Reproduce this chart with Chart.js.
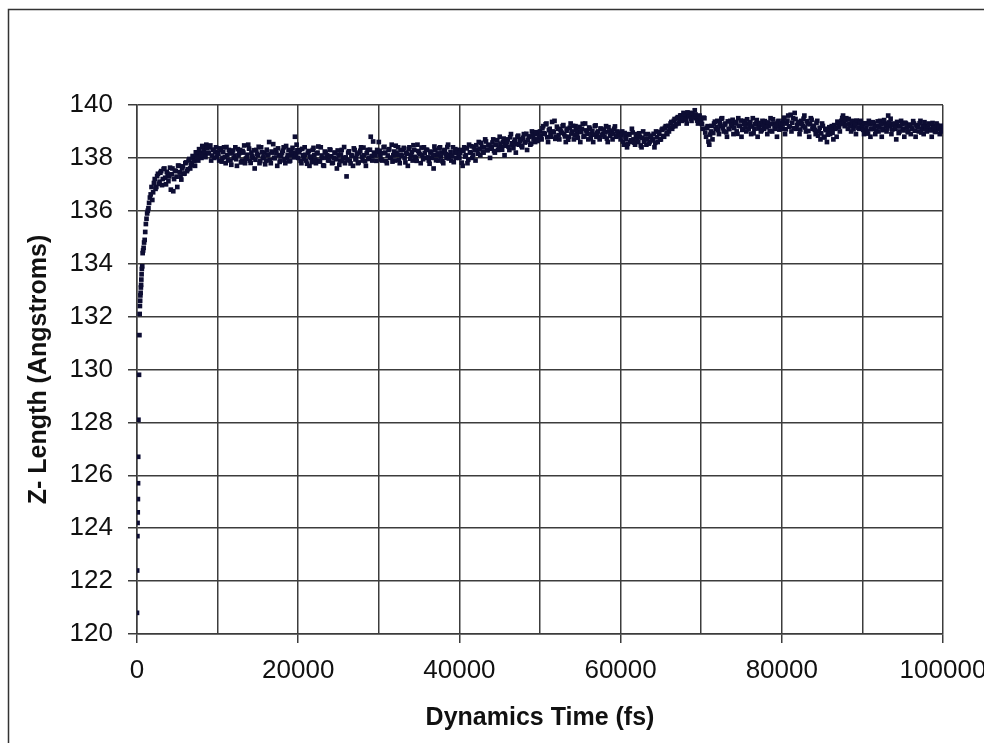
<!DOCTYPE html>
<html>
<head>
<meta charset="utf-8">
<script src="https://cdn.jsdelivr.net/npm/chart.js@4.4.1/dist/chart.umd.min.js"></script>
<style>
  html, body { margin: 0; padding: 0; background: #fff; overflow: hidden; }
  #wrap { width: 984px; height: 743px; position: relative; }
</style>
</head>
<body>
<div id="wrap"><canvas id="zChart" width="984" height="743"></canvas></div>
<script>

// start-up: first ~1500 fs, read point by point
var earlyTimes = [0, 20, 50, 70, 90, 110, 130, 150, 180,
    250, 300, 330, 360, 390, 420, 450, 480, 510, 540, 570, 600,
    650, 700, 760, 820, 880, 950, 1020, 1100, 1180, 1260, 1340, 1420, 1500];
var earlyLengths = [120.8, 122.4, 123.7, 124.2, 124.6, 125.1, 125.7, 126.7, 128.1,
    129.8, 131.3, 132.1, 132.4, 132.6, 132.8, 132.9, 133.1, 133.2, 133.4, 133.6, 133.8,
    133.9, 134.4, 134.5, 134.6, 134.8, 134.9, 135.2, 135.5, 135.7, 135.9, 136.0, 136.1, 136.3];

// rest of the run: values every 200 fs from bandStarts[i], plus the in-between
// samples (offset 100 fs) in the mid arrays
var sampleStep = 200;
var midOffset = 100;
var bandStarts = [1600, 10000, 20000, 30000, 40000, 50000, 60000, 70000, 80000, 90000];

var band0 = [136.5,136.9,136.7,137.2,136.9,137.4,137.1,137.5,137.2,137.6,
    137.0,137.4,137.3,136.8,137.6,137.2,137.5,136.9,137.7,137.3,
    137.6,137.4,137.8,137.5,137.9,137.6,137.8,138.0,137.7,138.1,
    137.9,138.2,138.0,138.4,138.1,138.5,138.2,138.4,137.9,138.3,
    138.0,138.4];
var band1 = [138.2,137.9,138.3,138.0,138.4,137.8,138.1,138.3,137.9,138.2,
    138.0,138.4,137.7,138.1,138.3,137.9,138.2,137.8,138.0,138.5,
    137.9,138.2,138.0,137.6,138.3,138.1,137.8,138.4,138.0,138.2,
    137.9,138.1,138.6,137.8,138.2,138.0,138.3,137.7,138.1,137.9,
    138.2,138.4,137.8,138.0,138.3,137.9,138.1,138.2,138.8,138.5];
var band2 = [138.0,138.3,137.8,138.1,138.4,137.9,138.2,137.7,138.0,138.3,
    138.1,137.8,138.2,137.9,138.4,138.0,137.7,138.2,138.1,137.9,
    138.3,137.8,138.0,138.2,137.6,138.1,137.9,138.3,138.0,137.8,
    137.3,138.2,137.9,138.1,137.7,138.3,138.0,137.8,138.2,138.4,
    137.9,138.1,137.7,138.3,138.0,138.8,137.9,138.2,138.1,138.3];
var band3 = [138.6,138.1,137.9,138.4,138.2,137.8,138.3,138.0,138.5,138.1,
    137.9,138.2,138.4,137.8,138.1,138.3,138.0,138.2,137.7,138.4,
    138.1,137.9,138.3,138.0,138.5,138.2,137.8,138.1,138.4,138.0,
    138.3,137.9,138.2,138.0,137.6,138.3,138.1,137.9,138.4,138.2,
    137.8,138.3,138.0,138.5,138.1,137.9,138.4,138.2,138.0,138.3];
var band4 = [138.0,138.3,137.7,138.4,138.1,137.8,138.5,138.2,138.0,138.4,
    137.9,138.3,138.6,138.1,138.4,138.2,138.7,138.3,138.5,138.0,
    138.4,138.7,138.2,138.5,138.3,138.8,138.4,138.6,138.1,138.5,
    138.7,138.3,138.9,138.5,138.6,138.2,138.8,138.5,138.7,138.4,
    138.9,138.6,138.3,138.8,138.5,139.0,138.7,138.6,138.9,138.7];
var band5 = [139.0,138.7,139.2,138.9,139.3,138.6,139.1,138.8,139.0,139.4,
    138.8,139.1,138.7,139.0,139.2,138.9,138.6,139.1,138.8,139.3,
    139.0,138.7,139.2,138.9,139.0,138.6,139.1,138.8,139.3,139.0,
    138.7,139.1,138.9,138.6,139.2,138.8,139.0,138.7,139.1,138.9,
    138.8,139.2,138.6,139.0,138.9,138.7,139.1,138.8,139.0,138.9];
var band6 = [138.7,139.0,138.5,138.8,138.4,138.9,138.6,139.1,138.7,138.5,
    138.9,138.6,138.8,138.4,139.0,138.7,138.5,138.9,138.6,138.8,
    138.7,138.4,139.0,138.6,138.9,138.7,139.1,138.8,139.2,138.9,
    139.0,139.3,139.1,139.4,139.2,139.5,139.3,139.6,139.4,139.7,
    139.5,139.3,139.6,139.7,139.4,139.6,139.8,139.5,139.3,139.6];
var band7 = [139.4,139.1,139.5,138.8,139.2,138.5,139.0,138.7,139.3,139.1,
    139.4,138.9,139.2,139.5,139.0,139.3,138.8,139.1,139.4,139.2,
    138.9,139.3,139.0,139.5,139.2,138.8,139.1,139.4,139.0,139.3,
    139.2,138.9,139.5,139.1,139.3,138.8,139.2,139.0,139.4,139.1,
    139.3,138.9,139.2,139.5,139.0,139.3,139.1,138.8,139.4,139.2];
var band8 = [139.1,139.4,138.9,139.3,139.6,139.2,139.0,139.5,139.7,139.1,
    139.3,138.9,139.4,139.2,139.6,139.0,139.3,138.8,139.5,139.1,
    139.2,138.9,139.4,139.0,138.7,139.3,138.8,139.1,138.6,139.0,
    138.9,139.2,138.7,139.1,138.8,139.3,139.0,139.4,139.6,139.2,
    139.5,139.1,139.3,139.0,139.4,139.2,138.9,139.3,139.1,139.4];
var band9 = [139.2,138.9,139.3,139.0,139.4,138.8,139.1,139.3,138.9,139.2,
    139.0,139.4,138.8,139.1,139.3,139.0,139.6,139.2,138.9,139.3,
    139.1,138.7,139.2,139.0,139.4,139.1,138.8,139.3,139.0,139.2,
    138.9,139.1,139.3,138.8,139.2,139.0,139.4,139.1,138.9,139.2,
    139.0,139.3,139.1,138.8,139.2,139.0,139.3,139.1,138.9,139.2,139.0];

var mid0 = [136.62,136.41,137.05,136.83,137.31,137.02,137.44,136.97,137.58,137.25,
    137.47,137.12,137.63,137.38,136.74,137.52,137.29,137.71,137.46,137.18,
    137.68,137.41,137.83,137.57,137.96,137.72,138.07,137.88,138.21,137.94,
    138.33,138.12,138.45,138.26,138.03,138.38,138.17,138.47,138.09,138.31,
    138.22,138.05];
var mid1 = [138.14,138.36,137.86,138.22,138.03,138.41,137.92,138.17,137.74,138.28,
    138.09,137.95,138.33,138.18,137.83,138.26,138.47,137.97,138.12,138.35,
    137.81,138.06,138.29,137.93,138.15,138.42,137.88,138.21,138.04,137.76,
    138.31,138.13,137.91,138.24,138.52,137.99,138.17,138.36,137.85,138.08,
    138.27,137.94,138.45,138.11,137.87,138.22,138.38,138.02,138.16,138.29];
var mid2 = [138.21,137.89,138.34,137.97,138.12,137.78,138.26,138.05,137.84,138.38,
    137.93,138.17,138.43,137.86,138.09,137.72,138.24,138.01,137.91,138.32,
    138.06,137.82,138.19,137.95,138.28,137.74,138.13,137.88,138.41,138.02,
    137.92,138.25,137.79,138.08,138.36,137.94,138.15,137.83,138.27,138.04,
    138.39,137.87,138.18,137.96,138.31,138.07,138.62,138.11,137.89,138.23];
var mid3 = [138.27,137.94,138.18,138.42,137.88,138.09,138.33,138.01,137.86,138.24,
    138.46,138.12,137.92,138.29,138.07,138.38,137.83,138.16,138.34,137.97,
    138.22,138.48,138.04,137.89,138.26,138.13,138.39,137.95,138.19,138.31,
    138.02,137.78,138.24,138.11,138.43,137.91,138.17,138.36,138.05,137.87,
    138.28,138.14,138.41,137.98,138.22,138.07,137.84,138.33,138.19,138.09];
var mid4 = [138.18,137.82,138.27,138.05,138.36,137.93,138.21,138.44,138.12,138.31,
    138.48,138.16,138.34,138.57,138.23,138.41,138.62,138.29,138.47,138.35,
    138.58,138.26,138.49,138.67,138.38,138.54,138.31,138.73,138.46,138.61,
    138.42,138.78,138.55,138.37,138.69,138.52,138.84,138.63,138.45,138.76,
    138.58,138.91,138.67,138.81,138.54,138.86,138.72,138.97,138.64,138.83];
var mid5 = [138.84,139.12,138.93,139.27,138.78,139.05,138.91,139.36,138.97,138.72,
    139.18,138.86,139.08,138.95,139.24,138.81,139.03,138.69,139.14,138.92,
    139.21,138.87,139.06,138.76,139.17,138.98,139.29,138.83,139.04,138.91,
    139.15,138.74,139.02,138.88,139.23,138.95,138.79,139.11,138.86,139.07,
    138.97,138.73,139.16,138.84,139.03,138.92,139.19,138.81,138.96,138.87];
var mid6 = [138.86,138.62,138.94,138.71,138.53,138.88,138.67,138.96,138.58,138.79,
    138.69,138.93,138.47,138.76,138.61,138.89,138.72,138.54,138.84,138.66,
    138.91,138.57,138.78,138.98,138.69,139.06,138.83,139.14,138.96,139.21,
    139.12,139.36,139.19,139.47,139.28,139.54,139.42,139.61,139.49,139.66,
    139.44,139.72,139.57,139.48,139.69,139.53,139.64,139.41,139.58,139.47];
var mid7 = [139.28,139.52,138.96,139.14,138.62,138.88,139.21,138.94,139.37,139.16,
    139.05,139.31,139.48,139.12,139.26,138.97,139.38,139.09,139.27,139.44,
    139.13,139.36,138.91,139.22,139.41,139.06,139.29,139.17,139.46,139.08,
    139.35,139.19,138.93,139.27,139.43,139.11,139.32,139.05,139.24,139.39,
    139.16,139.34,139.02,139.28,139.46,139.13,139.22,139.37,139.07,139.31];
var mid8 = [139.26,139.52,139.08,139.41,139.18,139.63,139.33,139.12,139.47,139.24,
    139.36,139.07,139.29,139.48,139.15,139.39,139.02,139.27,139.44,139.21,
    139.06,139.33,138.84,139.14,138.93,139.21,138.77,139.05,138.88,139.16,
    139.08,138.95,139.24,139.12,139.37,139.18,139.28,139.51,139.34,139.43,
    139.26,139.47,139.19,139.36,139.08,139.29,139.41,139.14,139.33,139.22];
var mid9 = [139.06,139.31,139.14,138.92,139.27,139.09,139.35,139.18,139.02,139.38,
    139.16,139.27,139.05,139.43,139.22,139.11,139.34,139.48,139.07,139.25,
    139.13,139.36,138.94,139.19,139.28,139.04,139.33,139.15,138.97,139.26,
    139.12,139.39,139.03,139.24,139.17,139.31,138.96,139.22,139.35,139.08,
    139.19,139.27,139.04,139.32,139.13,138.98,139.24,139.16,139.06,139.21];

var bands = [band0, band1, band2, band3, band4, band5, band6, band7, band8, band9];
var mids = [mid0, mid1, mid2, mid3, mid4, mid5, mid6, mid7, mid8, mid9];

var xTicks = [0, 20000, 40000, 60000, 80000, 100000];

var points = earlyTimes.map(function (t, i) { return {x: t, y: earlyLengths[i]}; });
bands.forEach(function (band, b) {
    band.forEach(function (v, i) {
        points.push({x: bandStarts[b] + i * sampleStep, y: v});
    });
    mids[b].forEach(function (v, i) {
        points.push({x: bandStarts[b] + midOffset + i * sampleStep, y: v});
    });
});

var gridColor = '#3c3c3c';

var frame = {
    id: 'frame',
    beforeDraw: function (chart) {
        var c = chart.ctx;
        c.save();
        c.fillStyle = '#fff';
        c.fillRect(0, 0, chart.width, chart.height);
        c.strokeStyle = '#333';
        c.lineWidth = 1.5;
        c.strokeRect(8.5, 9.5, 1200, 1200);
        c.restore();
    }
};

var ctx = document.getElementById('zChart').getContext('2d');
var zChart = new Chart(ctx, {
    type: 'scatter',
    data: {
        datasets: [{
            data: points,
            pointStyle: 'rect',
            pointRadius: 3.3,
            borderWidth: 0,
            backgroundColor: '#0d0d33',
            borderColor: '#0d0d33'
        }]
    },
    plugins: [frame],
    options: {
        responsive: false,
        devicePixelRatio: 1,
        animation: false,
        layout: {
            padding: {top: 105, right: 41, bottom: 0, left: 0}
        },
        plugins: {
            legend: { display: false },
            tooltip: { enabled: false }
        },
        scales: {
            x: {
                type: 'linear',
                min: 0,
                max: 100000,
                ticks: {
                    stepSize: 10000,
                    autoSkip: false,
                    maxRotation: 0,
                    padding: 12,
                    color: '#111',
                    font: {family: 'Liberation Sans, Arial', size: 26},
                    callback: function (v) { return xTicks.indexOf(v) >= 0 ? String(v) : ''; }
                },
                grid: {
                    color: gridColor,
                    lineWidth: 1.5,
                    tickLength: 9,
                    tickColor: function (c) {
                        return c.tick && xTicks.indexOf(c.tick.value) >= 0 ? gridColor : 'rgba(0,0,0,0)';
                    }
                },
                border: { color: gridColor, width: 1.5 },
                title: {
                    display: true,
                    text: 'Dynamics Time (fs)',
                    color: '#111',
                    font: {family: 'Liberation Sans, Arial', size: 25, weight: 'bold'},
                    padding: {top: 0, bottom: 10}
                },
                afterFit: function (scale) {
                    scale.height = 109;
                    scale.paddingLeft = 0;
                    scale.paddingRight = 0;
                }
            },
            y: {
                min: 120,
                max: 140,
                ticks: {
                    stepSize: 2,
                    padding: 15,
                    color: '#111',
                    font: {family: 'Liberation Sans, Arial', size: 26}
                },
                grid: {
                    color: gridColor,
                    lineWidth: 1.5,
                    tickLength: 9,
                    tickColor: gridColor
                },
                border: { color: gridColor, width: 1.5 },
                title: {
                    display: true,
                    text: 'Z- Length (Angstroms)',
                    color: '#111',
                    font: {family: 'Liberation Sans, Arial', size: 25, weight: 'bold'},
                    padding: {top: 24, bottom: 0}
                },
                afterFit: function (scale) {
                    scale.width = 137;
                    scale.paddingTop = 0;
                    scale.paddingBottom = 0;
                }
            }
        }
    }
});

</script>
</body>
</html>
